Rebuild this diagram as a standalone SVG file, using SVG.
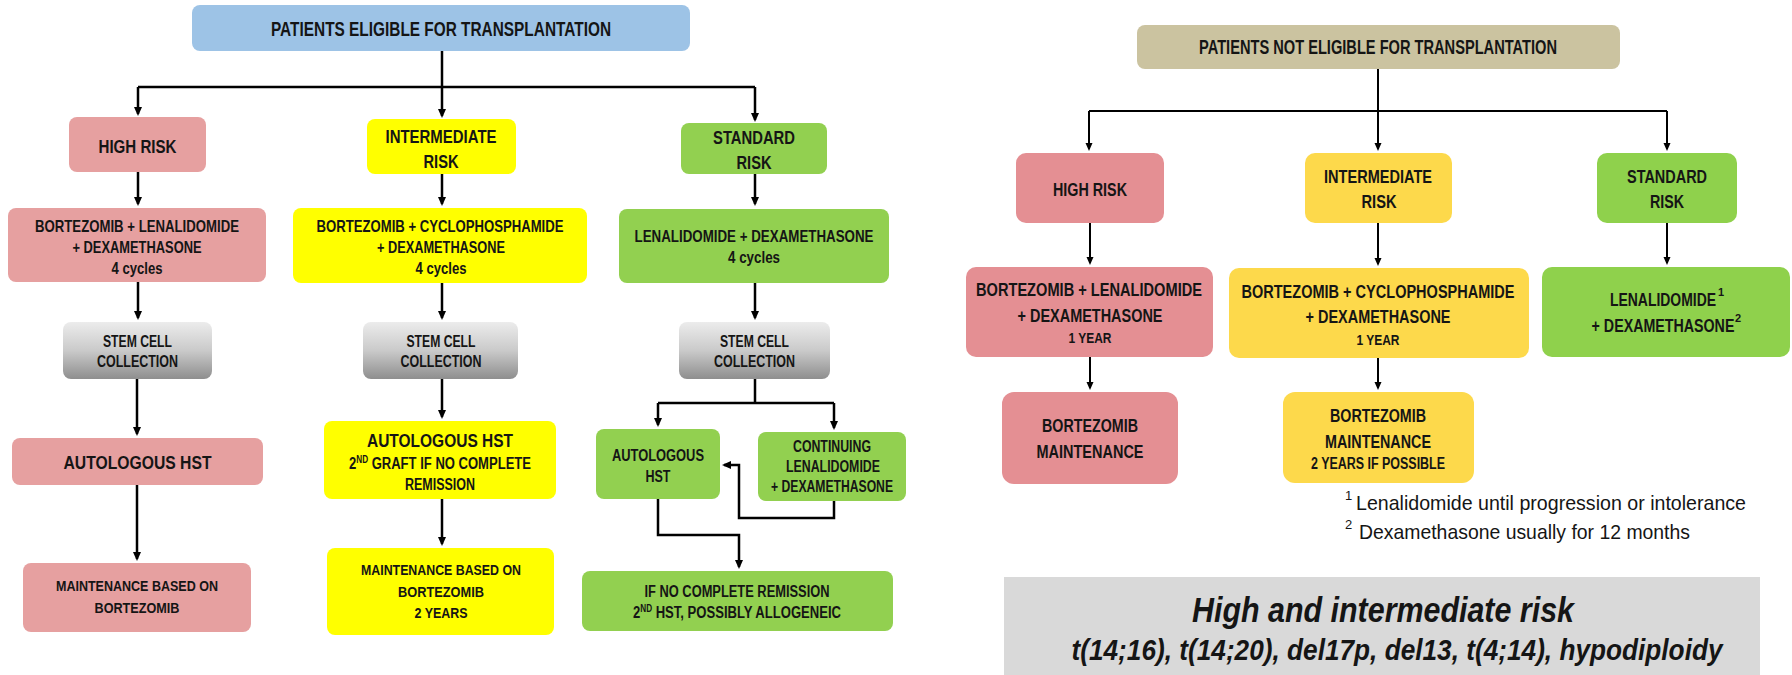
<svg xmlns="http://www.w3.org/2000/svg" width="1792" height="675" viewBox="0 0 1792 675">
<defs>
<style>
.t{font-family:"Liberation Sans Narrow","Liberation Sans",Arial,sans-serif;font-weight:bold;fill:#151515;text-anchor:middle}
.f{font-family:"Liberation Sans Narrow","Liberation Sans",Arial,sans-serif;fill:#151515}
.c{fill:none;stroke:#000;stroke-width:2.5;marker-end:url(#ah)}
.cn{fill:none;stroke:#000;stroke-width:2.5}
.c2{fill:none;stroke:#000;stroke-width:2;marker-end:url(#ah2)}
.c2n{fill:none;stroke:#000;stroke-width:2}
.pk{fill:#e6a0a0}
.yl{fill:#ffff00}
.gr{fill:#92d050}
.st{fill:url(#gg)}
.rpk{fill:#e48f93}
.ryl{fill:#fdd94b}
.rgr{fill:#8fd14c}
</style>
<linearGradient id="gg" x1="0" y1="0" x2="0" y2="1">
<stop offset="0" stop-color="#ececec"/>
<stop offset="0.5" stop-color="#cacaca"/>
<stop offset="1" stop-color="#8e8e8e"/>
</linearGradient>
<marker id="ah" markerWidth="10" markerHeight="10" refX="7" refY="4" orient="auto" markerUnits="userSpaceOnUse"><path d="M0,0 L9,4 L0,8 z" fill="#000"/></marker>
<marker id="ah2" markerWidth="10" markerHeight="10" refX="6" refY="3.5" orient="auto" markerUnits="userSpaceOnUse"><path d="M0,0 L8,3.5 L0,7 z" fill="#000"/></marker>
</defs>
<rect width="1792" height="675" fill="#ffffff"/>

<g id="connectors">
<path class="c" d="M442,51 V116"/>
<path class="cn" d="M138,87 H755"/>
<path class="c" d="M138,87 V114"/>
<path class="c" d="M755,87 V120"/>
<path class="c" d="M138,172 V204"/>
<path class="c" d="M442,174 V204"/>
<path class="c" d="M755,174 V204"/>
<path class="c" d="M138,282 V318"/>
<path class="c" d="M442,283 V318"/>
<path class="c" d="M755,283 V318"/>
<path class="c" d="M137,379 V434"/>
<path class="c" d="M442,379 V417"/>
<path class="cn" d="M755,379 V403 M658,403 H834"/>
<path class="c" d="M658,403 V425"/>
<path class="c" d="M834,403 V428"/>
<path class="c" d="M137,485 V559"/>
<path class="c" d="M442,499 V544"/>
<path class="c" d="M834,501 V518 H739 V465 H724"/>
<path class="c" d="M658,499 V535 H739 V567"/>
<path class="c2" d="M1378,69 V149"/>
<path class="c2n" d="M1089,111 H1667"/>
<path class="c2" d="M1089,111 V149"/>
<path class="c2" d="M1667,111 V149"/>
<path class="c2" d="M1090,223 V263"/>
<path class="c2" d="M1378,223 V264"/>
<path class="c2" d="M1667,223 V263"/>
<path class="c2" d="M1090,357 V388"/>
<path class="c2" d="M1378,358 V388"/>
</g>

<g id="n_elig">
<rect x="192" y="5" width="498" height="46" rx="8" fill="#9dc3e6"/>
<text class="t" x="441" y="36" font-size="20" textLength="340" lengthAdjust="spacingAndGlyphs">PATIENTS  ELIGIBLE FOR TRANSPLANTATION</text>
</g>
<g id="n_high">
<rect class="pk" x="69" y="117" width="137" height="55" rx="8"/>
<text class="t" x="137.5" y="153" font-size="19" textLength="78" lengthAdjust="spacingAndGlyphs">HIGH RISK</text>
</g>
<g id="n_inter">
<rect class="yl" x="367" y="119" width="149" height="55" rx="8"/>
<text class="t" x="441" y="143" font-size="19" textLength="111" lengthAdjust="spacingAndGlyphs">INTERMEDIATE</text>
<text class="t" x="441" y="168" font-size="19" textLength="35" lengthAdjust="spacingAndGlyphs">RISK</text>
</g>
<g id="n_std">
<rect class="gr" x="681" y="123" width="146" height="51" rx="8"/>
<text class="t" x="754" y="144" font-size="19" textLength="82" lengthAdjust="spacingAndGlyphs">STANDARD</text>
<text class="t" x="754" y="169" font-size="19" textLength="35" lengthAdjust="spacingAndGlyphs">RISK</text>
</g>
<g id="n_hdrug">
<rect class="pk" x="8" y="208" width="258" height="74" rx="8"/>
<text class="t" x="137" y="232" font-size="17" textLength="204" lengthAdjust="spacingAndGlyphs">BORTEZOMIB  + LENALIDOMIDE</text>
<text class="t" x="137" y="253" font-size="17" textLength="129" lengthAdjust="spacingAndGlyphs">+ DEXAMETHASONE</text>
<text class="t" x="137" y="274" font-size="17" textLength="51" lengthAdjust="spacingAndGlyphs">4 cycles</text>
</g>
<g id="n_idrug">
<rect class="yl" x="293" y="208" width="294" height="75" rx="8"/>
<text class="t" x="440" y="232" font-size="17" textLength="247" lengthAdjust="spacingAndGlyphs">BORTEZOMIB  + CYCLOPHOSPHAMIDE</text>
<text class="t" x="441" y="253" font-size="17" textLength="128" lengthAdjust="spacingAndGlyphs">+ DEXAMETHASONE</text>
<text class="t" x="441" y="274" font-size="17" textLength="51" lengthAdjust="spacingAndGlyphs">4 cycles</text>
</g>
<g id="n_sdrug">
<rect class="gr" x="619" y="209" width="270" height="74" rx="8"/>
<text class="t" x="754" y="242" font-size="17" textLength="239" lengthAdjust="spacingAndGlyphs">LENALIDOMIDE  +  DEXAMETHASONE</text>
<text class="t" x="754" y="263" font-size="17" textLength="52" lengthAdjust="spacingAndGlyphs">4 cycles</text>
</g>
<g id="n_stem1">
<rect class="st" x="63" y="322" width="149" height="57" rx="8"/>
<text class="t" x="137.5" y="347" font-size="16" textLength="69" lengthAdjust="spacingAndGlyphs">STEM CELL</text>
<text class="t" x="137.5" y="367" font-size="16" textLength="81" lengthAdjust="spacingAndGlyphs">COLLECTION</text>
</g>
<g id="n_stem2">
<rect class="st" x="363" y="322" width="155" height="57" rx="8"/>
<text class="t" x="441" y="347" font-size="16" textLength="69" lengthAdjust="spacingAndGlyphs">STEM CELL</text>
<text class="t" x="441" y="367" font-size="16" textLength="81" lengthAdjust="spacingAndGlyphs">COLLECTION</text>
</g>
<g id="n_stem3">
<rect class="st" x="679" y="322" width="151" height="57" rx="8"/>
<text class="t" x="754.5" y="347" font-size="16" textLength="69" lengthAdjust="spacingAndGlyphs">STEM CELL</text>
<text class="t" x="754.5" y="367" font-size="16" textLength="81" lengthAdjust="spacingAndGlyphs">COLLECTION</text>
</g>
<g id="n_auto1">
<rect class="pk" x="12" y="438" width="251" height="47" rx="8"/>
<text class="t" x="137.5" y="469" font-size="19" textLength="148" lengthAdjust="spacingAndGlyphs">AUTOLOGOUS  HST</text>
</g>
<g id="n_maint1">
<rect class="pk" x="23" y="563" width="228" height="69" rx="8"/>
<text class="t" x="137" y="591" font-size="15" textLength="162" lengthAdjust="spacingAndGlyphs">MAINTENANCE BASED  ON</text>
<text class="t" x="137" y="613" font-size="15" textLength="85" lengthAdjust="spacingAndGlyphs">BORTEZOMIB</text>
</g>
<g id="n_auto2">
<rect class="yl" x="324" y="421" width="232" height="78" rx="8"/>
<text class="t" x="440" y="447" font-size="18" textLength="146" lengthAdjust="spacingAndGlyphs">AUTOLOGOUS   HST</text>
<text class="t" x="440" y="469" font-size="16" textLength="182" lengthAdjust="spacingAndGlyphs">2<tspan font-size="10" dy="-6">ND</tspan><tspan dy="6"> GRAFT IF NO COMPLETE</tspan></text>
<text class="t" x="440" y="490" font-size="16" textLength="70" lengthAdjust="spacingAndGlyphs">REMISSION</text>
</g>
<g id="n_maint2">
<rect class="yl" x="327" y="548" width="227" height="87" rx="8"/>
<text class="t" x="441" y="575" font-size="15" textLength="160" lengthAdjust="spacingAndGlyphs">MAINTENANCE  BASED ON</text>
<text class="t" x="441" y="597" font-size="15" textLength="86" lengthAdjust="spacingAndGlyphs">BORTEZOMIB</text>
<text class="t" x="441" y="618" font-size="15" textLength="53" lengthAdjust="spacingAndGlyphs">2 YEARS</text>
</g>
<g id="n_auto3">
<rect class="gr" x="596" y="429" width="124" height="70" rx="8"/>
<text class="t" x="658" y="461" font-size="16" textLength="92" lengthAdjust="spacingAndGlyphs">AUTOLOGOUS</text>
<text class="t" x="658" y="482" font-size="16" textLength="25" lengthAdjust="spacingAndGlyphs">HST</text>
</g>
<g id="n_cont">
<rect class="gr" x="758" y="432" width="148" height="69" rx="8"/>
<text class="t" x="832" y="452" font-size="16" textLength="78" lengthAdjust="spacingAndGlyphs">CONTINUING</text>
<text class="t" x="833" y="472" font-size="16" textLength="94" lengthAdjust="spacingAndGlyphs">LENALIDOMIDE</text>
<text class="t" x="832" y="492" font-size="16" textLength="122" lengthAdjust="spacingAndGlyphs">+ DEXAMETHASONE</text>
</g>
<g id="n_ifno">
<rect class="gr" x="582" y="571" width="311" height="60" rx="8"/>
<text class="t" x="737" y="597" font-size="16" textLength="185" lengthAdjust="spacingAndGlyphs">IF NO COMPLETE REMISSION</text>
<text class="t" x="737" y="618" font-size="16" textLength="208" lengthAdjust="spacingAndGlyphs">2<tspan font-size="10" dy="-6">ND</tspan><tspan dy="6"> HST, POSSIBLY ALLOGENEIC</tspan></text>
</g>

<g id="n_notelig">
<rect x="1137" y="25" width="483" height="44" rx="8" fill="#cbc3a0"/>
<text class="t" x="1378" y="54" font-size="20" textLength="358" lengthAdjust="spacingAndGlyphs">PATIENTS NOT ELIGIBLE FOR TRANSPLANTATION</text>
</g>
<g id="n_rhigh">
<rect class="rpk" x="1016" y="153" width="148" height="70" rx="10"/>
<text class="t" x="1090" y="196" font-size="19" textLength="74" lengthAdjust="spacingAndGlyphs">HIGH RISK</text>
</g>
<g id="n_rinter">
<rect class="ryl" x="1305" y="153" width="147" height="70" rx="10"/>
<text class="t" x="1378" y="183" font-size="19" textLength="108" lengthAdjust="spacingAndGlyphs">INTERMEDIATE</text>
<text class="t" x="1379" y="208" font-size="19" textLength="35" lengthAdjust="spacingAndGlyphs">RISK</text>
</g>
<g id="n_rstd">
<rect class="rgr" x="1597" y="153" width="140" height="70" rx="10"/>
<text class="t" x="1667" y="183" font-size="19" textLength="80" lengthAdjust="spacingAndGlyphs">STANDARD</text>
<text class="t" x="1667" y="208" font-size="19" textLength="34" lengthAdjust="spacingAndGlyphs">RISK</text>
</g>
<g id="n_rhdrug">
<rect class="rpk" x="966" y="267" width="247" height="90" rx="10"/>
<text class="t" x="1089" y="296" font-size="19" textLength="226" lengthAdjust="spacingAndGlyphs">BORTEZOMIB + LENALIDOMIDE</text>
<text class="t" x="1090" y="322" font-size="19" textLength="145" lengthAdjust="spacingAndGlyphs">+ DEXAMETHASONE</text>
<text class="t" x="1090" y="343" font-size="15" textLength="43" lengthAdjust="spacingAndGlyphs">1 YEAR</text>
</g>
<g id="n_ridrug">
<rect class="ryl" x="1229" y="268" width="300" height="90" rx="10"/>
<text class="t" x="1378" y="298" font-size="19" textLength="273" lengthAdjust="spacingAndGlyphs">BORTEZOMIB + CYCLOPHOSPHAMIDE</text>
<text class="t" x="1378" y="323" font-size="19" textLength="145" lengthAdjust="spacingAndGlyphs">+ DEXAMETHASONE</text>
<text class="t" x="1378" y="345" font-size="15" textLength="43" lengthAdjust="spacingAndGlyphs">1 YEAR</text>
</g>
<g id="n_rsdrug">
<rect class="rgr" x="1542" y="267" width="248" height="90" rx="10"/>
<text class="t" transform="translate(1663,306) scale(0.735,1)" x="0" y="0" font-size="19">LENALIDOMIDE</text>
<text class="t" x="1721" y="296" font-size="11" text-anchor="start">1</text>
<text class="t" transform="translate(1663,332) scale(0.75,1)" x="0" y="0" font-size="19">+ DEXAMETHASONE</text>
<text class="t" x="1738" y="322" font-size="11" text-anchor="start">2</text>
</g>
<g id="n_rhmaint">
<rect class="rpk" x="1002" y="392" width="176" height="92" rx="12"/>
<text class="t" x="1090" y="432" font-size="19" textLength="96" lengthAdjust="spacingAndGlyphs">BORTEZOMIB</text>
<text class="t" x="1090" y="458" font-size="19" textLength="107" lengthAdjust="spacingAndGlyphs">MAINTENANCE</text>
</g>
<g id="n_rimaint">
<rect class="ryl" x="1283" y="392" width="191" height="91" rx="12"/>
<text class="t" x="1378" y="422" font-size="19" textLength="96" lengthAdjust="spacingAndGlyphs">BORTEZOMIB</text>
<text class="t" x="1378" y="448" font-size="19" textLength="106" lengthAdjust="spacingAndGlyphs">MAINTENANCE</text>
<text class="t" x="1378" y="469" font-size="16" textLength="134" lengthAdjust="spacingAndGlyphs">2 YEARS IF POSSIBLE</text>
</g>

<g id="footnotes">
<text class="f" font-size="13" x="1345" y="500">1</text>
<text class="f" font-size="21" x="1356" y="510" textLength="390" lengthAdjust="spacingAndGlyphs">Lenalidomide until progression or intolerance</text>
<text class="f" font-size="13" x="1345" y="529">2</text>
<text class="f" font-size="21" x="1359" y="539" textLength="331" lengthAdjust="spacingAndGlyphs">Dexamethasone usually for 12 months</text>
</g>

<g id="risk_note">
<rect x="1004" y="577" width="756" height="98" fill="#d9d9d9"/>
<text class="f" font-style="italic" font-weight="bold" font-size="35" x="1383" y="622" text-anchor="middle" textLength="382" lengthAdjust="spacingAndGlyphs">High and intermediate risk</text>
<text class="f" font-style="italic" font-weight="bold" font-size="29" x="1397" y="660" text-anchor="middle" textLength="651" lengthAdjust="spacingAndGlyphs">t(14;16), t(14;20), del17p, del13, t(4;14), hypodiploidy</text>
</g>
</svg>
